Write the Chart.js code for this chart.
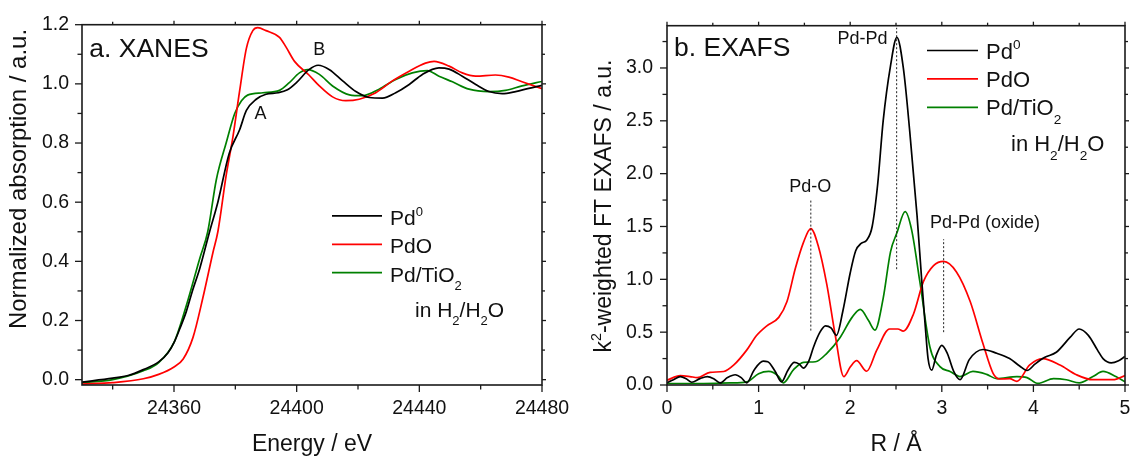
<!DOCTYPE html>
<html>
<head>
<meta charset="utf-8">
<script src="https://cdn.jsdelivr.net/npm/chart.js@4.4.1/dist/chart.umd.min.js"></script>
<style>
  html, body { margin: 0; padding: 0; background: #fff; }
  #wrap { position: relative; width: 1133px; height: 459px; overflow: hidden; }
  canvas { position: absolute; top: 0; }
  #xanes { left: 0; }
  #exafs { left: 566px; }
</style>
</head>
<body>
<div id="wrap">
  <canvas id="xanes" width="600" height="459"></canvas>
  <canvas id="exafs" width="600" height="459"></canvas>
</div>
<script>
// ---------- XANES (Pd K-edge): energy / eV and normalized absorption ----------
const xanesPd0Energy = [24330, 24340, 24345, 24350, 24355, 24358, 24360, 24362, 24364, 24366, 24368.4, 24371.6, 24374.3, 24378, 24381.4, 24383.6, 24386.8, 24390, 24394, 24397, 24400, 24404, 24407, 24410.7, 24415, 24419.3, 24423.7, 24428, 24432.3, 24436.7, 24441, 24446.4, 24449.7, 24454, 24458.4, 24462.7, 24467, 24471.4, 24475.7, 24480];
const xanesPd0Abs    = [-0.008, 0.005, 0.014, 0.034, 0.06, 0.09, 0.125, 0.175, 0.23, 0.30, 0.376, 0.50, 0.60, 0.765, 0.845, 0.91, 0.948, 0.965, 0.97, 0.98, 1.005, 1.048, 1.063, 1.048, 1.01, 0.974, 0.954, 0.952, 0.97, 0.998, 1.032, 1.054, 1.05, 1.026, 0.998, 0.974, 0.967, 0.974, 0.985, 0.995];

const xanesPdOEnergy = [24330, 24340, 24350, 24355, 24360, 24363, 24366.2, 24369.4, 24372.7, 24374.3, 24377, 24379.2, 24381.4, 24383.6, 24385.7, 24387.3, 24390, 24394.4, 24396.5, 24399.3, 24404, 24407.4, 24411.7, 24416, 24420.4, 24425.8, 24431.2, 24436.7, 24442, 24444.8, 24449.7, 24454, 24458.4, 24464.8, 24469.2, 24473.5, 24480];
const xanesPdOAbs    = [-0.015, -0.01, 0.003, 0.018, 0.043, 0.07, 0.143, 0.276, 0.43, 0.50, 0.69, 0.82, 0.976, 1.12, 1.18, 1.19, 1.18, 1.157, 1.125, 1.076, 1.03, 0.993, 0.956, 0.943, 0.948, 0.97, 1.01, 1.043, 1.07, 1.076, 1.06, 1.037, 1.026, 1.03, 1.023, 1.007, 0.984];

const xanesTiO2Energy = [24330, 24340, 24350, 24355, 24360, 24364, 24368.4, 24371, 24373.8, 24377, 24379.8, 24382, 24384, 24389, 24394.4, 24397.6, 24400.9, 24403.6, 24407.4, 24411.7, 24417.2, 24421.5, 24426.9, 24432.3, 24437.7, 24442.6, 24446.4, 24450.8, 24456.2, 24462.7, 24468.1, 24473.5, 24480];
const xanesTiO2Abs    = [-0.01, 0.0, 0.03, 0.058, 0.126, 0.25, 0.41, 0.50, 0.676, 0.80, 0.90, 0.943, 0.962, 0.97, 0.978, 1.004, 1.037, 1.048, 1.032, 0.993, 0.963, 0.96, 0.982, 1.015, 1.037, 1.045, 1.026, 1.007, 0.982, 0.974, 0.978, 0.993, 1.008];

// ---------- EXAFS: k2-weighted Fourier transform magnitude vs R / Å ----------
const exafsPd0R   = [0, 0.07, 0.145, 0.21, 0.27, 0.36, 0.44, 0.51, 0.58, 0.66, 0.745, 0.81, 0.87, 0.95, 1.05, 1.1, 1.18, 1.25, 1.32, 1.39, 1.44, 1.49, 1.55, 1.6, 1.67, 1.73, 1.79, 1.85, 1.92, 2.0, 2.06, 2.12, 2.18, 2.24, 2.3, 2.36, 2.44, 2.51, 2.58, 2.65, 2.73, 2.78, 2.82, 2.85, 2.89, 2.94, 3.0, 3.06, 3.13, 3.2, 3.3, 3.45, 3.6, 3.74, 3.85, 3.93, 4.02, 4.12, 4.25, 4.4, 4.5, 4.6, 4.7, 4.76, 4.85, 4.93, 5.0];
const exafsPd0Mag = [0.02, 0.05, 0.08, 0.06, 0.026, 0.06, 0.08, 0.06, 0.02, 0.07, 0.097, 0.07, 0.02, 0.14, 0.225, 0.22, 0.13, 0.03, 0.14, 0.215, 0.2, 0.16, 0.23, 0.36, 0.5, 0.56, 0.54, 0.47, 0.7, 1.06, 1.27, 1.34, 1.37, 1.5, 1.9, 2.5, 3.02, 3.29, 3.0, 2.4, 1.6, 1.0, 0.55, 0.25, 0.14, 0.28, 0.375, 0.3, 0.13, 0.05, 0.24, 0.336, 0.3, 0.25, 0.18, 0.137, 0.2, 0.26, 0.31, 0.45, 0.53, 0.47, 0.33, 0.25, 0.21, 0.23, 0.27];

const exafsPdOR   = [0, 0.145, 0.25, 0.33, 0.47, 0.62, 0.73, 0.87, 0.98, 1.09, 1.22, 1.31, 1.4, 1.49, 1.57, 1.65, 1.745, 1.835, 1.93, 2.0, 2.07, 2.18, 2.29, 2.43, 2.52, 2.58, 2.69, 2.8, 2.91, 3.02, 3.16, 3.31, 3.45, 3.56, 3.63, 3.74, 3.82, 3.96, 4.1, 4.29, 4.47, 4.65, 4.87, 5.0];
const exafsPdOMag = [0.045, 0.088, 0.08, 0.07, 0.12, 0.128, 0.19, 0.33, 0.47, 0.56, 0.64, 0.79, 1.10, 1.35, 1.48, 1.32, 0.95, 0.48, 0.08, 0.17, 0.23, 0.13, 0.33, 0.53, 0.53, 0.51, 0.67, 0.98, 1.13, 1.17, 1.07, 0.79, 0.39, 0.11, 0.057, 0.06, 0.035, 0.19, 0.25, 0.19, 0.097, 0.05, 0.05, 0.09];

const exafsTiO2R   = [0, 0.4, 0.69, 0.87, 1.0, 1.11, 1.22, 1.27, 1.38, 1.49, 1.62, 1.745, 1.89, 2.02, 2.11, 2.2, 2.27, 2.36, 2.44, 2.51, 2.6, 2.67, 2.76, 2.87, 2.98, 3.09, 3.2, 3.34, 3.49, 3.6, 3.82, 3.93, 4.05, 4.22, 4.36, 4.5, 4.65, 4.76, 4.9, 5.0];
const exafsTiO2Mag = [0.014, 0.014, 0.02, 0.03, 0.107, 0.128, 0.08, 0.02, 0.144, 0.215, 0.22, 0.3, 0.45, 0.64, 0.716, 0.61, 0.52, 0.82, 1.26, 1.44, 1.64, 1.47, 0.98, 0.36, 0.174, 0.128, 0.08, 0.128, 0.1, 0.06, 0.08, 0.07, 0.015, 0.06, 0.05, 0.02, 0.08, 0.128, 0.08, 0.03];

// ---------- tick values ----------
const xanesXTicks = [24360, 24400, 24440, 24480];
const xanesXMinor = [24340, 24380, 24420, 24460];
const xanesYTicks = [0, 0.2, 0.4, 0.6, 0.8, 1.0, 1.2];
const xanesYMinor = [0.1, 0.3, 0.5, 0.7, 0.9, 1.1];
const exafsXTicks = [0, 1, 2, 3, 4, 5];
const exafsXMinor = [0.5, 1.5, 2.5, 3.5, 4.5];
const exafsYTicks = [0, 0.5, 1.0, 1.5, 2.0, 2.5, 3.0];
const exafsYMinor = [0.25, 0.75, 1.25, 1.75, 2.25, 2.75, 3.25];

// ---------- series names and feature labels ----------
const seriesColors = ['#000000', '#ff0000', '#008000'];
const seriesLabels = [[['Pd', ''], ['0', 'sup']], [['PdO', '']], [['Pd/TiO', ''], ['2', 'sub']]];
const conditionLabel = [['in H', ''], ['2', 'sub'], ['/H', ''], ['2', 'sub'], ['O', '']];
const xanesFeatures = [{ text: 'A', x: 24388.2, y: 0.898 }, { text: 'B', x: 24407.4, y: 1.113 }];
const exafsShells = [
  { text: 'Pd-O', x: 1.563, y: 1.878, lineX: 1.57, lineFrom: 0.515, lineTo: 1.75 },
  { text: 'Pd-Pd', x: 2.135, y: 3.27, lineX: 2.507, lineFrom: 1.096, lineTo: 3.38 },
  { text: 'Pd-Pd (oxide)', x: 3.471, y: 1.535, lineX: 3.02, lineFrom: 0.5, lineTo: 1.38 }
];

const FONT = "'Liberation Sans', Arial, Helvetica, sans-serif";

function xy(xs, ys) { return xs.map((x, i) => ({ x, y: ys[i] })); }

function curve(data, color) {
  return { data, borderColor: color, borderWidth: 1.7, pointRadius: 0, fill: false,
           cubicInterpolationMode: 'monotone' };
}

function guide(x, y0, y1) {
  return { data: [{ x, y: y0 }, { x, y: y1 }], borderColor: '#222', borderWidth: 1,
           borderDash: [2, 2], pointRadius: 0, fill: false };
}

// text made of plain / superscript / subscript runs, drawn on an alphabetic baseline
function drawRich(ctx, parts, x, y, size, align) {
  const small = size * 0.62;
  const widths = parts.map(([t, k]) => { ctx.font = `${k ? small : size}px ${FONT}`; return ctx.measureText(t).width; });
  const total = widths.reduce((a, b) => a + b, 0);
  let cx = align === 'center' ? x - total / 2 : x;
  ctx.textAlign = 'left';
  ctx.textBaseline = 'alphabetic';
  parts.forEach(([t, k], i) => {
    ctx.font = `${k ? small : size}px ${FONT}`;
    const dy = k === 'sup' ? -size * 0.43 : k === 'sub' ? size * 0.38 : 0;
    ctx.fillText(t, cx, y + dy);
    cx += widths[i];
  });
}

// axis frame with outward major/minor tick marks on all four sides
const frameTicks = {
  id: 'frameTicks',
  afterDraw(chart, args, opts) {
    const { ctx, chartArea: a, scales: { x, y } } = chart;
    ctx.save();
    ctx.strokeStyle = '#1a1a1a';
    ctx.lineWidth = 1.3;
    const mark = (x0, y0, x1, y1) => { ctx.beginPath(); ctx.moveTo(x0, y0); ctx.lineTo(x1, y1); ctx.stroke(); };
    const xt = [[opts.xMajor, 7, 4], [opts.xMinor, 4.5, 3]];
    xt.forEach(([vals, out, mirror]) => vals.forEach(v => {
      const p = x.getPixelForValue(v);
      mark(p, a.bottom, p, a.bottom + out);
      mark(p, a.top, p, a.top - mirror);
    }));
    const yt = [[opts.yMajor, 7, 4], [opts.yMinor, 4.5, 3]];
    yt.forEach(([vals, out, mirror]) => vals.forEach(v => {
      const p = y.getPixelForValue(v);
      mark(a.left, p, a.left - out, p);
      mark(a.right, p, a.right + mirror, p);
    }));
    ctx.lineWidth = 1.6;
    ctx.strokeRect(a.left, a.top, a.right - a.left, a.bottom - a.top);
    ctx.restore();
  }
};

// panel title, y-axis title, feature labels and legend
const panelText = {
  id: 'panelText',
  afterDraw(chart, args, o) {
    const { ctx, chartArea: a, scales: { x, y } } = chart;
    ctx.save();
    ctx.fillStyle = '#111';
    // panel title
    ctx.font = `${o.titleSize}px ${FONT}`;
    ctx.textAlign = 'left';
    ctx.textBaseline = 'alphabetic';
    ctx.fillText(o.title, a.left + o.titleDx, a.top + o.titleBaseline);
    // rotated y-axis title
    ctx.save();
    ctx.translate(o.yTitleX, o.yTitleY);
    ctx.rotate(-Math.PI / 2);
    drawRich(ctx, o.yTitle, 0, o.yTitleSize * 0.36, o.yTitleSize, 'center');
    ctx.restore();
    // feature labels at data coordinates
    ctx.font = `${o.markSize}px ${FONT}`;
    ctx.textAlign = 'center';
    ctx.textBaseline = 'middle';
    o.marks.forEach(m => ctx.fillText(m.text, x.getPixelForValue(m.x), y.getPixelForValue(m.y)));
    // legend
    const L = o.legend;
    seriesLabels.forEach((parts, i) => {
      const ly = a.top + L.y + i * L.dy;
      ctx.strokeStyle = seriesColors[i];
      ctx.lineWidth = 1.7;
      ctx.beginPath();
      ctx.moveTo(a.left + L.x0, ly);
      ctx.lineTo(a.left + L.x1, ly);
      ctx.stroke();
      drawRich(ctx, parts, a.left + L.tx, ly + L.base, L.size, 'left');
    });
    drawRich(ctx, conditionLabel, a.left + L.noteX, a.top + L.noteY, L.size, 'left');
    ctx.restore();
  }
};

function scale(min, max, ticks, fmt, pad, fitSize, horizontal, title) {
  const s = {
    type: 'linear', min, max,
    grid: { display: false, drawTicks: false },
    border: { display: false },
    ticks: { autoSkip: false, maxRotation: 0, minRotation: 0, padding: pad, color: '#111',
             font: { family: FONT, size: 19.5 }, callback: fmt },
    afterBuildTicks: sc => { sc.ticks = ticks.map(v => ({ value: v })); },
    afterFit: sc => { if (horizontal) sc.height = fitSize; else sc.width = fitSize; }
  };
  if (title) {
    s.title = { display: true, text: title, color: '#111', font: { family: FONT, size: 23 },
                padding: { top: 0, bottom: 1 } };
  }
  return s;
}

const common = {
  responsive: false,
  animation: false,
  devicePixelRatio: 1,
  events: []
};

new Chart(document.getElementById('xanes'), {
  type: 'line',
  data: {
    datasets: [
      curve(xy(xanesPd0Energy, xanesPd0Abs), seriesColors[0]),
      curve(xy(xanesPdOEnergy, xanesPdOAbs), seriesColors[1]),
      curve(xy(xanesTiO2Energy, xanesTiO2Abs), seriesColors[2])
    ]
  },
  plugins: [frameTicks, panelText],
  options: {
    ...common,
    layout: { padding: { top: 19.5, right: 58, bottom: 0, left: 0 } },
    scales: {
      x: scale(24330, 24480, xanesXTicks, v => String(v), 12, 74, true, 'Energy / eV'),
      y: scale(-0.018, 1.2, xanesYTicks, v => v.toFixed(1), 13, 82, false)
    },
    plugins: {
      legend: { display: false },
      tooltip: { enabled: false },
      frameTicks: { xMajor: xanesXTicks, xMinor: xanesXMinor, yMajor: xanesYTicks, yMinor: xanesYMinor },
      panelText: {
        title: 'a. XANES', titleSize: 26.5, titleDx: 7.3, titleBaseline: 32.2,
        yTitle: [['Normalized absorption / a.u.', '']], yTitleSize: 24, yTitleX: 17.5, yTitleY: 179,
        marks: xanesFeatures, markSize: 18,
        legend: { x0: 250, x1: 300, tx: 308, y: 191.2, dy: 28.4, base: 9, size: 21, noteX: 333, noteY: 292.2 }
      }
    }
  }
});

new Chart(document.getElementById('exafs'), {
  type: 'line',
  data: {
    datasets: [
      ...exafsShells.map(s => guide(s.lineX, s.lineFrom, s.lineTo)),
      curve(xy(exafsPd0R, exafsPd0Mag), seriesColors[0]),
      curve(xy(exafsPdOR, exafsPdOMag), seriesColors[1]),
      curve(xy(exafsTiO2R, exafsTiO2Mag), seriesColors[2])
    ]
  },
  plugins: [frameTicks, panelText],
  options: {
    ...common,
    layout: { padding: { top: 19.5, right: 41, bottom: 0, left: 0 } },
    scales: {
      x: scale(0, 5, exafsXTicks, v => String(v), 12, 74, true, 'R / Å'),
      y: scale(0, 3.4, exafsYTicks, v => v.toFixed(1), 14, 101, false)
    },
    plugins: {
      legend: { display: false },
      tooltip: { enabled: false },
      frameTicks: { xMajor: exafsXTicks, xMinor: exafsXMinor, yMajor: exafsYTicks, yMinor: exafsYMinor },
      panelText: {
        title: 'b. EXAFS', titleSize: 26.5, titleDx: 7, titleBaseline: 30.5,
        yTitle: [['k', ''], ['2', 'sup'], ['-weighted FT EXAFS / a.u.', '']], yTitleSize: 23, yTitleX: 37, yTitleY: 206,
        marks: exafsShells, markSize: 18,
        legend: { x0: 260, x1: 311, tx: 319, y: 24.8, dy: 28.4, base: 8, size: 22, noteX: 344, noteY: 125.5 }
      }
    }
  }
});
</script>
</body>
</html>
